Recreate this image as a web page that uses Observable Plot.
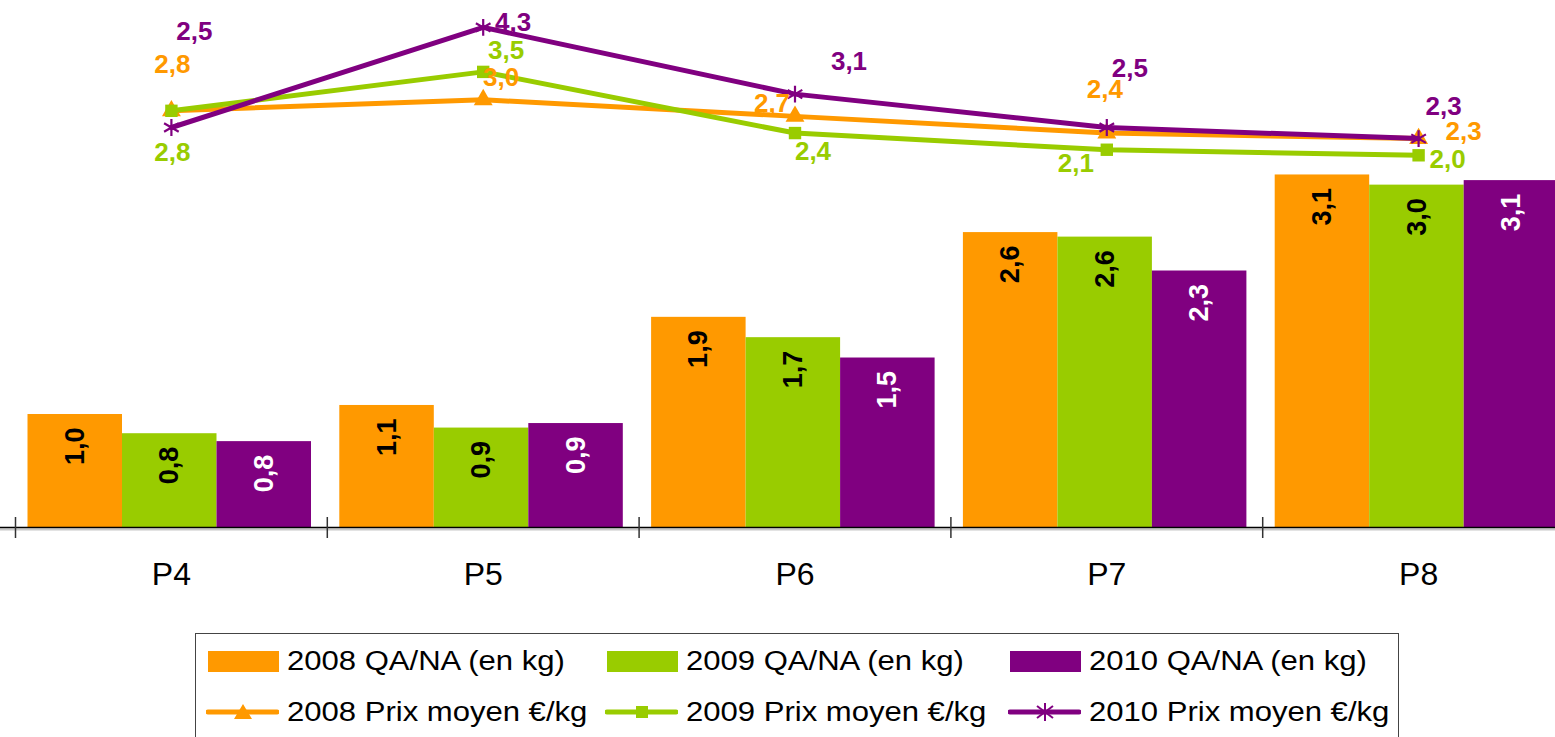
<!DOCTYPE html>
<html><head><meta charset="utf-8">
<script src="https://cdn.jsdelivr.net/npm/d3@7"></script>
<script src="https://cdn.jsdelivr.net/npm/@observablehq/plot@0.6"></script>
<style>
html,body{margin:0;padding:0;background:#fff;overflow:hidden;width:1555px;height:737px;}
#chart{position:absolute;left:0;top:0;}
#legend{position:absolute;left:195px;top:633px;width:1204px;height:130px;border:1px solid #444;box-sizing:border-box;font-family:"Liberation Sans",Arial,sans-serif;}
.item{position:absolute;display:flex;align-items:center;height:30px;}
.item span{font-size:27px;display:inline-block;transform:scaleX(1.15);transform-origin:left center;white-space:nowrap;margin-left:8px;color:#000;}
</style></head><body>
<div id="chart"></div><div id="legend"></div>
<script>
// ---- data ----
const categories = ["P4", "P5", "P6", "P7", "P8"];
const years = ["2008", "2009", "2010"];
const qa2008 = [1.00, 1.08, 1.86, 2.61, 3.12];
const qa2009 = [0.83, 0.88, 1.68, 2.57, 3.03];
const qa2010 = [0.76, 0.92, 1.50, 2.27, 3.07];
const prix2008 = [2.8, 3.0, 2.7, 2.4, 2.3];
const prix2009 = [2.8, 3.5, 2.4, 2.1, 2.0];
const prix2010 = [2.5, 4.3, 3.1, 2.5, 2.3];
const colors = ["#FF9900", "#99CC00", "#800080"];
const barLabelColors = ["#000", "#000", "#fff"];
const symbols = ["triangle", "square", "asterisk"];
const qaSeries = [qa2008, qa2009, qa2010];
const prixSeries = [prix2008, prix2009, prix2010];

// ---- layout ----
const W = 1555, H = 620, baseY = 527;
const xRange = [15, 1574];
const band = (xRange[1] - xRange[0]) / categories.length;
const gapL = 12.5, bw = 94.5;
const yMax = 4.664;               // primary axis (QA/NA) top
const y2Domain = [-4.694, 4.784]; // secondary axis (prix) range mapped to primary
const toPrimary = v => (v - y2Domain[0]) / (y2Domain[1] - y2Domain[0]) * yMax;
const fmt = v => d3.format(".1f")(v).replace(".", ",");
// label nudges for the price labels (as placed in the original)
const nudges = [
  [[1,-46],[18,-22],[-23,-13],[-2,-43],[45,-7]],
  [[1,42],[23,-21],[18,19],[-31,14],[29,4]],
  [[23,-96],[30,-5],[54,-32],[23,-59],[25,-32]]
];

const barRows = years.map((yr, i) => categories.map((c, k) => ({cat: c, year: yr, v: qaSeries[i][k]})));
const lineRows = years.map((yr, i) => categories.map((c, k) => ({cat: c, year: yr, p: prixSeries[i][k], u: toPrimary(prixSeries[i][k])})));

const marks = [];
years.forEach((yr, i) => {
  marks.push(Plot.barY(barRows[i], {
    x: "cat", y: "v", fill: colors[i],
    insetLeft: gapL + i * bw, insetRight: band - gapL - (i + 1) * bw
  }));
  marks.push(Plot.text(barRows[i], {
    x: "cat", y: "v", text: d => fmt(d.v), rotate: -90, textAnchor: "end",
    lineAnchor: "middle", dy: 13, dx: gapL + (i + 0.5) * bw - band / 2,
    fill: barLabelColors[i], fontSize: 27, fontWeight: "bold"
  }));
});
marks.push(Plot.ruleY([0], {stroke: "#c8c8c8", strokeWidth: 2, dy: 2}));
marks.push(Plot.ruleY([0], {stroke: "#000", strokeWidth: 1.5}));
marks.push(Plot.ruleX(categories, {x: d => d, y1: 0, y2: 0, dx: -band / 2, insetTop: -10, insetBottom: -11, stroke: "#333", strokeWidth: 1.5}));
years.forEach((yr, i) => {
  marks.push(Plot.line(lineRows[i], {x: "cat", y: "u", stroke: colors[i], strokeWidth: 5}));
  if (symbols[i] === "asterisk") {
    marks.push(Plot.dot(lineRows[i], {x: "cat", y: "u", symbol: "asterisk", r: 8, stroke: colors[i], strokeWidth: 2.2}));
  } else {
    marks.push(Plot.dot(lineRows[i], {x: "cat", y: "u", symbol: symbols[i], r: 7, fill: colors[i], stroke: "none"}));
  }
});
years.forEach((yr, i) => {
  lineRows[i].forEach((d, k) => {
    marks.push(Plot.text([d], {
      x: "cat", y: "u", text: dd => fmt(dd.p), dx: nudges[i][k][0], dy: nudges[i][k][1],
      fill: colors[i], fontSize: 26, fontWeight: "bold", textAnchor: "middle", lineAnchor: "middle"
    }));
  });
});
marks.push(Plot.axisX({tickSize: 0, tickPadding: 35, fontSize: 32, label: null, fill: "#000"}));

const chart = Plot.plot({
  width: W, height: H,
  marginLeft: 0, marginRight: 0, marginTop: 0, marginBottom: H - baseY,
  style: {fontFamily: "'Liberation Sans', Arial, sans-serif", background: "#fff", overflow: "visible"},
  x: {type: "band", domain: categories, range: xRange, padding: 0, round: false},
  y: {domain: [0, yMax], axis: null},
  marks
});
document.getElementById("chart").appendChild(chart);

// ---- legend ----
const legend = document.getElementById("legend");
const colLeft = [12, 411, 814];
const rowMid = [27, 78];
years.forEach((yr, i) => {
  const a = document.createElement("div");
  a.className = "item";
  a.style.left = colLeft[i] + "px";
  a.style.top = (rowMid[0] - 15) + "px";
  a.innerHTML = `<div style="width:71px;height:21px;background:${colors[i]}"></div><span>${yr} QA/NA (en kg)</span>`;
  legend.appendChild(a);
  const b = document.createElement("div");
  b.className = "item";
  b.style.left = (colLeft[i] - 2) + "px";
  b.style.top = (rowMid[1] - 15) + "px";
  let sym;
  if (i === 0) sym = `<path d="M37,2 L46,17 L28,17 Z" fill="${colors[i]}"/>`;
  else if (i === 1) sym = `<rect x="31" y="4" width="12" height="12" fill="${colors[i]}"/>`;
  else sym = `<g stroke="${colors[i]}" stroke-width="2"><line x1="37" y1="1" x2="37" y2="19"/><line x1="29" y1="4" x2="45" y2="16"/><line x1="29" y1="16" x2="45" y2="4"/></g>`;
  b.innerHTML = `<svg width="73" height="20"><line x1="2" y1="10" x2="71" y2="10" stroke="${colors[i]}" stroke-width="5" stroke-linecap="round"/>${sym}</svg><span>${yr} Prix moyen €/kg</span>`;
  legend.appendChild(b);
});
</script></body></html>
